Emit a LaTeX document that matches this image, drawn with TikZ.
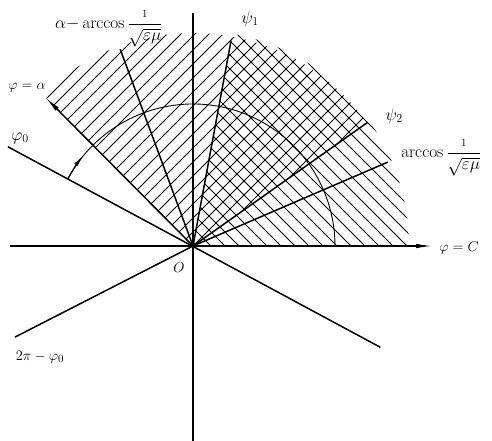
\documentclass[tikz,border=0pt]{standalone}
\usepackage{amsmath}
\usetikzlibrary{arrows.meta}
\begin{document}
\begin{tikzpicture}[x=1pt,y=1pt,
  ray/.style={line width=1.5pt},
  hatchline/.style={line width=0.75pt},
  thinarc/.style={line width=0.9pt},
  tipray/.style={-{Latex[length=17pt,width=4.5pt]}},
  lbl/.style={font=\fontsize{15}{18}\selectfont, inner sep=0pt},
  biglbl/.style={font=\fontsize{18}{21}\selectfont, inner sep=0pt},
  fraclbl/.style={font=\fontsize{16}{19}\selectfont, inner sep=0pt, anchor=base west}]
\useasboundingbox (-193,-195) rectangle (299,246);
\coordinate (O) at (0,0);
% hatching "/" : from psi2 to phi=alpha
\begin{scope}
  \clip (O) -- (35.3:213) arc[start angle=35.3,end angle=134.8,radius=213] -- cycle;
  \foreach \c in {-70,-56,...,320}
    \draw[hatchline] (-300,{\c-300}) -- (300,{\c+300});
\end{scope}
% hatching "\" : from 0 to psi1
\begin{scope}
  \clip (O) -- (0:216) arc[start angle=0,end angle=79.5,radius=216] -- cycle;
  \foreach \c in {4,18,...,320}
    \draw[hatchline] ({\c-300},300) -- ({\c+300},-300);
\end{scope}
% end points
\coordinate (xl) at (-183,0);
\coordinate (xr) at (240,0);
\coordinate (yt) at (0,233);
\coordinate (yb) at (0,-195);
\coordinate (p0) at (151.8:210);
\coordinate (p0b) at (-28.4:213);
\coordinate (q0) at (-152.9:200);
\coordinate (pa) at (134.8:210);
\coordinate (pac) at (110.3:210);
\coordinate (ps1) at (79.5:209);
\coordinate (ps2) at (35.3:214);
\coordinate (pc) at (23.3:212);
% axes and rays
\draw[ray] (xl) -- (O);
\draw[ray,tipray] (O) -- (xr);
\draw[ray] (yb) -- (yt);
\draw[ray] (p0) -- (p0b);
\draw[ray] (O) -- (q0);
\draw[ray,tipray] (O) -- (pa);
\draw[ray] (O) -- (pac);
\draw[ray] (O) -- (ps1);
\draw[ray] (O) -- (ps2);
\draw[ray] (O) -- (pc);
% arc
\draw[thinarc] (151.8:142) arc[start angle=151.8,end angle=0,radius=142];
\draw[line width=1.2pt,-{Latex[length=13pt,width=4pt]}] (151.8:142) arc[start angle=151.8,end angle=140,radius=142];
% labels
\node[fraclbl] (la) at (-138,217) {$\alpha{-}\arccos\dfrac{\scriptstyle 1}{\sqrt{\varepsilon\mu}}$};
\node[biglbl] (l1) at (57,227) {$\psi_1$};
\node[biglbl] (l2) at (201,130) {$\psi_2$};
\node[fraclbl] (lc) at (208,88) {$\arccos\dfrac{\scriptstyle 1}{\sqrt{\varepsilon\mu}}$};
\node[lbl] (lC) at (266,-2) {$\varphi=C$};
\node[lbl] (lal) at (-166,158) {$\varphi=\alpha$};
\node[biglbl] (l0) at (-173,108) {$\varphi_0$};
\node[lbl] (lO) at (-14,-22) {$O$};
\node[lbl] (lq) at (-153,-111) {$2\pi-\varphi_0$};
\end{tikzpicture}
\end{document}
